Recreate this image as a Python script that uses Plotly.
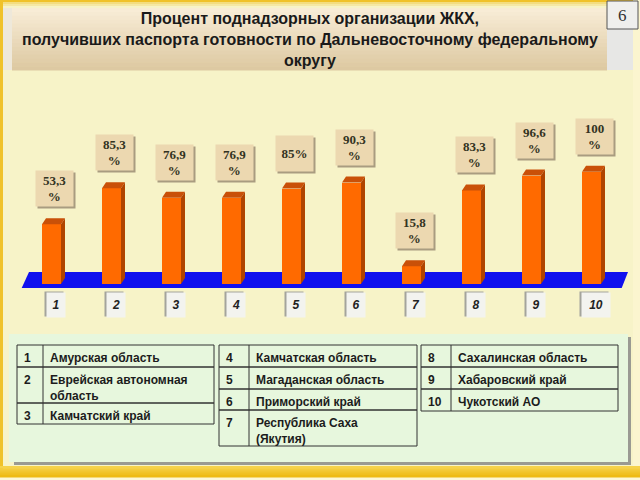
import plotly.graph_objects as go

# ---------------- data ----------------
categories = [1, 2, 3, 4, 5, 6, 7, 8, 9, 10]
values = [53.3, 85.3, 76.9, 76.9, 85.0, 90.3, 15.8, 83.3, 96.6, 100.0]
value_labels = ["53,3<br>%", "85,3<br>%", "76,9<br>%", "76,9<br>%", "85%",
                "90,3<br>%", "15,8<br>%", "83,3<br>%", "96,6<br>%", "100<br>%"]
tick_labels = ["1", "2", "3", "4", "5", "6", "7", "8", "9", "10"]
regions = ["Амурская область", "Еврейская автономная<br>область", "Камчатский край",
           "Камчатская область", "Магаданская область", "Приморский край",
           "Республика Саха<br>(Якутия)",
           "Сахалинская область", "Хабаровский край", "Чукотский АО"]
title_text = ("Процент поднадзорных организации ЖКХ,<br>"
              "получивших паспорта готовности по Дальневосточному федеральному<br>округу")
slide_number = "6"

# ---------------- geometry helpers ----------------
W, H = 640, 480
PX_X = 60.0          # pixels per category
PX_Y = 1.123         # pixels per percent
X0_PIX = 51.5        # pixel centre of first category
BASE_PIX = 284.0     # pixel of value 0

xr = [1 - X0_PIX / PX_X, 1 + (W - X0_PIX) / PX_X]
yr = [-(H - BASE_PIX) / PX_Y, BASE_PIX / PX_Y]


def px(x):
    return x / W


def py(y):
    return 1 - y / H


def rect(x0, y0, x1, y1, color, line=None, layer="below"):
    d = dict(type="rect", xref="paper", yref="paper",
             x0=px(x0), x1=px(x1), y0=py(y1), y1=py(y0),
             fillcolor=color, layer=layer, line=dict(width=0))
    if line:
        d["line"] = dict(width=1, color=line)
    return d


def hexmix(c1, c2, t):
    a = [int(c1[i:i + 2], 16) for i in (1, 3, 5)]
    b = [int(c2[i:i + 2], 16) for i in (1, 3, 5)]
    return "#%02x%02x%02x" % tuple(round(a[k] + (b[k] - a[k]) * t) for k in range(3))


def vgrad(x0, y0, x1, y1, ctop, cbot, n=12):
    out = []
    h = (y1 - y0) / n
    for k in range(n):
        out.append(rect(x0, y0 + k * h, x1, y0 + (k + 1) * h + 0.6,
                        hexmix(ctop, cbot, k / (n - 1))))
    return out


shapes = []
# page background pieces
shapes.append(rect(0, 0, 640, 480, "#fcf7d6"))
shapes.append(rect(3, 2, 633, 467, "#f7f3c8"))
shapes += vgrad(3, 2, 633, 8, "#f3dd80", "#f7f3c8", 3)
shapes.append(rect(0, 0, 3, 470, "#f0c22a"))
shapes.append(rect(0, 0, 640, 2, "#f0c22a"))
shapes += vgrad(0, 466, 640, 477, "#f6d24a", "#eebb14", 5)
shapes.append(rect(633, 0, 640, 466, "#fbf5cf"))
# title box
shapes.append(rect(3, 8, 12, 70, "#eee8da"))
shapes += vgrad(12, 8, 607, 70, "#f8ecd6", "#ddc9a2", 16)
shapes.append(rect(607, 28, 633, 70, "#e7e7e5"))
shapes.append(rect(607, 1, 638, 29, "#efefed", line="#555555"))
# table panel with shadow
shapes.append(rect(14, 337, 631, 465, "#9a9a92"))
shapes.append(rect(9, 334, 628, 462, "#e7f7dd"))
# blue floor
fl = [(21.7, 288), (29, 272), (628, 272), (621.7, 288)]
path = "M " + " L ".join(f"{px(a)},{py(b)}" for a, b in fl) + " Z"
shapes.append(dict(type="path", xref="paper", yref="paper", path=path,
                   fillcolor="#1010ee", line=dict(width=0), layer="below"))

# tables
table_left = [17, 219, 421]
table_right = [214, 417, 618]
num_col = [26, 30, 30]
groups = [(0, 3), (3, 7), (7, 10)]
TOP = 345
annotations = []
tfont = dict(family="Liberation Sans, Arial, sans-serif", size=12, color="#1c1c1c")
for t, (a, b) in enumerate(groups):
    xl, xrgt = table_left[t], table_right[t]
    y = TOP
    for i in range(a, b):
        nl = regions[i].count("<br>") + 1
        hrow = 22 if nl == 1 else 36
        if t == 0 and i == 2:
            hrow = 21
        if t == 1 and i == 5:
            hrow = 21
        shapes.append(rect(xl, y, xrgt, y + hrow, "rgba(0,0,0,0)", line="#333333"))
        annotations.append(dict(xref="paper", yref="paper", x=px(xl + 5), y=py(y + 4),
                                xanchor="left", yanchor="top", showarrow=False,
                                text=f"<b>{i + 1}</b>", font=tfont))
        annotations.append(dict(xref="paper", yref="paper", x=px(xl + num_col[t] + 5),
                                y=py(y + 4), xanchor="left", yanchor="top", showarrow=False,
                                align="left", text=f"<b>{regions[i]}</b>", font=tfont))
        y += hrow
    shapes.append(dict(type="line", xref="paper", yref="paper",
                       x0=px(xl + num_col[t]), x1=px(xl + num_col[t]),
                       y0=py(TOP), y1=py(y), line=dict(color="#333333", width=1),
                       layer="below"))

# title and slide number
annotations.append(dict(xref="paper", yref="paper", x=px(310), y=py(39),
                        xanchor="center", yanchor="middle", showarrow=False,
                        text=f"<b>{title_text}</b>",
                        font=dict(family="Liberation Sans Narrow, Arial Narrow, Liberation Sans, sans-serif",
                                  size=16, color="#1a1a1a")))
annotations.append(dict(xref="paper", yref="paper", x=px(622.5), y=py(15),
                        xanchor="center", yanchor="middle", showarrow=False,
                        text=slide_number,
                        font=dict(family="Liberation Serif, serif", size=17, color="#333333")))

# ---------------- bars ----------------
bw = 19 / PX_X
dx = 4 / PX_X
dy = 6 / PX_Y
fig = go.Figure()
fig.add_trace(go.Bar(x=categories, y=values, width=bw,
                     marker=dict(color="#ff6a00", line=dict(width=0)),
                     hoverinfo="skip"))
topx, topy, sidex, sidey = [], [], [], []
for c, v in zip(categories, values):
    x0, x1 = c - bw / 2, c + bw / 2
    topx += [x0, x1, x1 + dx, x0 + dx, x0, None]
    topy += [v, v, v + dy, v + dy, v, None]
    sidex += [x1, x1, x1 + dx, x1 + dx, x1, None]
    sidey += [0, v, v + dy, dy, 0, None]
fig.add_trace(go.Scatter(x=topx, y=topy, fill="toself", mode="lines",
                         fillcolor="#c95008", line=dict(width=0), hoverinfo="skip"))
fig.add_trace(go.Scatter(x=sidex, y=sidey, fill="toself", mode="lines",
                         fillcolor="#b04400", line=dict(width=0), hoverinfo="skip"))

# value labels (boxes with shadow)
lfont = dict(family="Liberation Serif, Times New Roman, serif", size=13, color="#333322")
for c, v, lab in zip(categories, values, value_labels):
    yy = v + 17 / PX_Y
    for shadow in (True, False):
        annotations.append(dict(
            x=c + 3 / PX_X, y=yy, xref="x", yref="y", xanchor="center", yanchor="bottom",
            showarrow=False, text=f"<b>{lab}</b>" if not shadow else "",
            width=35, height=33, borderpad=1,
            bgcolor="#a99c80" if shadow else "#ecd8b0",
            xshift=2 if shadow else 0, yshift=-2 if shadow else 0,
            font=lfont))

# category boxes
cfont = dict(family="Liberation Sans, Arial, sans-serif", size=12, color="#222222")
for c, t in zip(categories, tick_labels):
    wbox = 18 if len(t) == 1 else 28
    for shadow in (True, False):
        annotations.append(dict(
            x=c + 4 / PX_X, y=py(305), xref="x", yref="paper", xanchor="center",
            yanchor="middle", showarrow=False,
            text="" if shadow else f"<b><i>{t}</i></b>",
            width=wbox, height=24, borderpad=0,
            bgcolor="#a4a49c" if shadow else "#f3f3ef",
            xshift=-2 if shadow else 0, yshift=1 if shadow else 0,
            font=cfont))

fig.update_layout(
    width=W, height=H, autosize=False,
    margin=dict(l=0, r=0, t=0, b=0, pad=0),
    paper_bgcolor="#fcf7d6", plot_bgcolor="rgba(0,0,0,0)",
    showlegend=False, bargap=0,
    xaxis=dict(range=xr, domain=[0, 1], visible=False, fixedrange=True),
    yaxis=dict(range=yr, domain=[0, 1], visible=False, fixedrange=True),
    shapes=shapes, annotations=annotations,
)
fig.write_html("out.html")
